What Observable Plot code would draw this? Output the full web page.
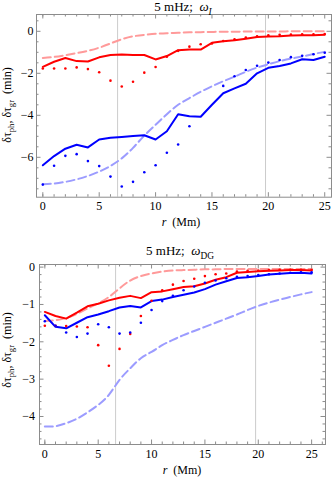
<!DOCTYPE html>
<html><head><meta charset="utf-8">
<script src="https://cdn.jsdelivr.net/npm/d3@7"></script>
<script src="https://cdn.jsdelivr.net/npm/@observablehq/plot@0.6"></script>
<style>body{margin:0;background:#fff} #c svg{display:block}</style>
</head><body><div id="c"></div>
<script>
const r = [0,1,2,3,4,5,6,7,8,9,10,11,12,13,14,15,16,17,18,19,20,21,22,23,24,25];

// Panel 1: 5 mHz, omega_I
const redSolidI = [-1.69,-1.45,-1.27,-1.42,-1.44,-1.24,-1.13,-1.10,-1.13,-1.13,-1.34,-1.18,-0.90,-0.87,-0.87,-0.55,-0.47,-0.43,-0.35,-0.27,-0.25,-0.24,-0.20,-0.19,-0.19,-0.17];
const redDotsI  = [-1.77,-1.77,-1.77,-1.72,-1.80,-1.95,-2.35,-2.63,-2.40,-1.97,-1.70,-1.21,-0.93,-0.73,-0.62,-0.58,-0.46,-0.38,-0.30,-0.24,-0.19,-0.17,-0.16,-0.14,-0.14,-0.13];
const redDashI  = [-1.27,-1.22,-1.14,-1.04,-0.93,-0.78,-0.58,-0.38,-0.24,-0.17,-0.12,-0.09,-0.07,-0.05,-0.04,-0.03,-0.02,-0.02,-0.01,-0.01,-0.01,-0.01,0,0,0,0];
const blueSolidI = [-6.38,-5.94,-5.59,-5.40,-5.53,-5.15,-5.07,-5.03,-4.98,-4.95,-5.15,-4.76,-3.95,-4.05,-4.07,-3.50,-2.95,-2.72,-2.50,-2.00,-1.74,-1.65,-1.53,-1.33,-1.37,-1.21];
const blueDotsI  = [-7.30,-6.40,-5.93,-5.85,-6.18,-6.42,-6.92,-7.39,-7.17,-6.71,-6.38,-5.78,-5.39,-4.52,null,null,-2.60,-2.14,-1.84,-1.64,-1.49,-1.37,-1.23,-1.17,-1.09,-1.02];
const blueDashI  = [-7.28,-7.25,-7.17,-7.05,-6.89,-6.68,-6.41,-6.05,-5.55,-4.97,-4.45,-3.95,-3.50,-3.18,-2.88,-2.62,-2.38,-2.16,-1.93,-1.73,-1.57,-1.42,-1.30,-1.20,-1.08,-0.98];

// Panel 2: 5 mHz, omega_DG
const redSolidDG = [-1.20,-1.31,-1.38,-1.22,-1.05,-0.98,-0.89,-0.82,-0.77,-0.83,-0.67,-0.65,-0.59,-0.53,-0.51,-0.44,-0.34,-0.27,-0.15,-0.13,-0.11,-0.10,-0.09,-0.08,-0.08,-0.09];
const redDotsDG  = [-1.57,-1.57,-1.58,-1.59,-1.61,-2.09,-2.64,-2.19,-1.79,-1.31,-0.90,-0.62,-0.47,-0.37,-0.31,-0.24,-0.19,-0.17,-0.12,-0.10,-0.09,-0.08,-0.07,-0.07,-0.07,-0.07];
const redDashDG  = [-1.44,-1.42,-1.36,-1.25,-1.11,-0.97,-0.80,-0.57,-0.36,-0.24,-0.17,-0.12,-0.09,-0.08,-0.07,-0.06,-0.06,-0.05,-0.05,-0.05,-0.05,-0.05,-0.05,-0.05,-0.05,-0.05];
const blueSolidDG = [-1.29,-1.60,-1.64,-1.49,-1.34,-1.27,-1.18,-1.08,-1.04,-1.08,-0.91,-0.87,-0.80,-0.74,-0.68,-0.59,-0.47,-0.38,-0.29,-0.27,-0.24,-0.20,-0.18,-0.16,-0.15,-0.17];
const blueDotsDG  = [-1.45,-1.57,-1.75,-1.87,-1.78,-1.53,-1.61,-1.78,-1.75,-1.49,-1.15,-0.91,-0.77,-0.62,-0.52,-0.42,-0.36,-0.30,-0.26,-0.24,-0.21,-0.19,-0.17,-0.15,-0.14,-0.14];
const blueDashDG  = [-4.27,-4.26,-4.18,-4.06,-3.89,-3.69,-3.42,-3.02,-2.71,-2.44,-2.27,-2.09,-1.95,-1.82,-1.71,-1.60,-1.49,-1.38,-1.27,-1.15,-1.04,-0.95,-0.87,-0.80,-0.73,-0.67];

const xMajor = [0,5,10,15,20,25];
const xMinor = [-0,1,2,3,4,6,7,8,9,11,12,13,14,16,17,18,19,21,22,23,24,26];
const yMajorI = [0,-2,-4,-6];
const yMinorI = [0.5,-0.5,-1,-1.5,-2.5,-3,-3.5,-4.5,-5,-5.5,-6.5,-7,-7.5];
const yMajorDG = [0,-1,-2,-3,-4];
const yMinorDG = [-0.2,-0.4,-0.6,-0.8,-1.2,-1.4,-1.6,-1.8,-2.2,-2.4,-2.6,-2.8,-3.2,-3.4,-3.6,-3.8,-4.2,-4.4,-4.6];
const gridX = [6.63, 19.75];

const RED = "#ff0000", BLUE = "#0000ff", PINK = "#ff9a9a", LAV = "#9c9cff";
const FONT = "Liberation Serif, 'Times New Roman', serif";
const fmt = d => d < 0 ? "\u2212" + (-d) : String(d);

function rows(ys) { return r.map((x, i) => ({x, y: ys[i]})).filter(d => d.y != null); }

function tickMarks(vals, axis, len, xd, yd) {
  const c = "#8c8c8c";
  if (axis === "x") return [
    Plot.ruleX(vals, {x: d => d, y1: () => yd[0], y2: () => yd[0], insetTop: -len, stroke: c}),
    Plot.ruleX(vals, {x: d => d, y1: () => yd[1], y2: () => yd[1], insetBottom: -len, stroke: c})
  ];
  return [
    Plot.ruleY(vals, {y: d => d, x1: () => xd[0], x2: () => xd[0], insetRight: -len, stroke: c}),
    Plot.ruleY(vals, {y: d => d, x1: () => xd[1], x2: () => xd[1], insetLeft: -len, stroke: c})
  ];
}

function panel(o) {
  const xd = o.xd, yd = o.yd;
  const xMin = xMinor.filter(v => v > xd[0] && v < xd[1]);
  const yMin = o.yMinor.filter(v => v > yd[0] && v < yd[1]);
  const p = Plot.plot({
    width: 332, height: o.height,
    marginLeft: o.ml, marginRight: o.mr, marginTop: o.mt, marginBottom: o.mb,
    style: {fontFamily: FONT, fontSize: "12px", background: "white", color: "black"},
    x: {domain: xd},
    y: {domain: yd},
    marks: [
      Plot.ruleX(gridX, {x: d => d, stroke: "#cccccc", strokeWidth: 1}),
      Plot.line(rows(o.redDash), {x: "x", y: "y", stroke: PINK, strokeWidth: 2, strokeDasharray: "8,4", curve: "natural"}),
      Plot.line(rows(o.blueDash), {x: "x", y: "y", stroke: LAV, strokeWidth: 2, strokeDasharray: "8,4", curve: "natural"}),
      Plot.line(rows(o.redSolid), {x: "x", y: "y", stroke: RED, strokeWidth: 2}),
      Plot.line(rows(o.blueSolid), {x: "x", y: "y", stroke: BLUE, strokeWidth: 2}),
      Plot.dot(rows(o.redDots), {x: "x", y: "y", r: 1.3, fill: RED}),
      Plot.dot(rows(o.blueDots), {x: "x", y: "y", r: 1.3, fill: BLUE}),
      Plot.frame({stroke: "#8c8c8c"}),
      ...tickMarks(xMajor, "x", 4.5, xd, yd),
      ...tickMarks(xMin, "x", 2.5, xd, yd),
      ...tickMarks(o.yMajor, "y", 4.5, xd, yd),
      ...tickMarks(yMin, "y", 2.5, xd, yd),
      Plot.axisX(xMajor, {tickSize: 0, tickPadding: o.xpad, tickFormat: fmt, label: null, fontSize: 12}),
      Plot.axisY(o.yMajor, {tickSize: 0, tickPadding: o.ypad, tickFormat: fmt, label: null, fontSize: 12})
    ]
  });
  const svg = d3.select(p);
  const add = (x, y, parts, size, rot) => {
    const t = svg.append("text").attr("x", x).attr("y", y).attr("text-anchor", "middle")
      .attr("font-family", FONT).attr("font-size", size).attr("fill", "black")
      .style("white-space", "pre");
    if (rot) t.attr("transform", `rotate(-90 ${x} ${y})`);
    for (const q of parts) {
      const s = t.append("tspan").text(q.t);
      if (q.i) s.attr("font-style", "italic");
      if (q.sub) s.attr("font-size", size * 0.72).attr("dy", size * 0.28);
      if (q.up) s.attr("dy", -size * 0.28);
    }
  };
  add(o.tx, o.ty, o.title, 13, false);
  add(o.lx, o.ly, [{t: "r", i: true}, {t: "  (Mm)"}], 12, false);
  add(11, o.yly, [{t: "\u03b4\u03c4"}, {t: "ph", sub: true}, {t: ", \u03b4\u03c4", up: true}, {t: "gr", sub: true}, {t: "  (min)", up: true}], 12, true);
  document.getElementById("c").appendChild(p);
}

panel({
  height: 230, ml: 36, mr: 1, mt: 14, mb: 33.3,
  xd: [-0.56, 25.6], yd: [-7.9, 0.8],
  yMajor: yMajorI, yMinor: yMinorI, xpad: 4, ypad: 3,
  redSolid: redSolidI, redDots: redDotsI, redDash: redDashI,
  blueSolid: blueSolidI, blueDots: blueDotsI, blueDash: blueDashI,
  tx: 183, ty: 11, title: [{t: "5 mHz;\u2002"}, {t: "\u03c9", i: true}, {t: "I", i: true, sub: true}],
  lx: 181, ly: 226, yly: 105
});
panel({
  height: 248, ml: 39, mr: 7, mt: 34, mb: 34,
  xd: [-0.5, 26.3], yd: [-4.75, 0.07],
  yMajor: yMajorDG, yMinor: yMinorDG, xpad: 4.5, ypad: 4.5,
  redSolid: redSolidDG, redDots: redDotsDG, redDash: redDashDG,
  blueSolid: blueSolidDG, blueDots: blueDotsDG, blueDash: blueDashDG,
  tx: 180, ty: 25, title: [{t: "5 mHz;\u2002"}, {t: "\u03c9", i: true}, {t: "DG", sub: true}],
  lx: 182, ly: 244, yly: 120
});
</script></body></html>
